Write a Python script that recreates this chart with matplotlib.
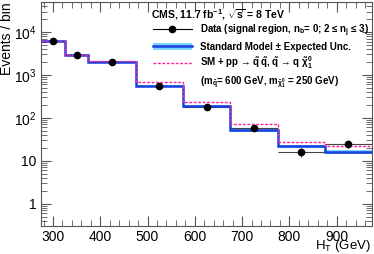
import numpy as np
import matplotlib
matplotlib.use("Agg")
import matplotlib.pyplot as plt
from matplotlib.lines import Line2D
from matplotlib.patches import Patch

plt.rcParams['font.family'] = ['Liberation Sans', 'DejaVu Sans']
plt.rcParams['mathtext.fontset'] = 'custom'
plt.rcParams['mathtext.rm'] = 'Liberation Sans:bold'
plt.rcParams['mathtext.it'] = 'Liberation Sans:bold'
plt.rcParams['mathtext.bf'] = 'Liberation Sans:bold'

# H_T bins (GeV)
bin_edges = [275, 325, 375, 475, 575, 675, 775, 875, 975]
bin_centers = [300, 350, 425, 525, 625, 725, 825, 925]

# observed data and its error
data = [6200, 2950, 1970, 560, 183, 57, 16, 25]
data_err = [80, 55, 45, 24, 14, 8, 4, 5]

# standard model expectation and uncertainty
sm = [6300, 2950, 2000, 560, 188, 51, 21.5, 16]
sm_unc = [300, 120, 80, 30, 10, 3.5, 1.8, 1.4]

# SM + signal
sm_sig = [6300, 2950, 2100, 680, 237, 73, 27, 22.5]

blue = '#1540e0'
band = '#7fd4ff'
pink = '#ff20a0'

fig, ax = plt.subplots(figsize=(3.74, 2.54), dpi=100)
fig.subplots_adjust(left=0.110, right=0.995, bottom=0.110, top=0.992)

sm_arr = np.array(sm)
unc_arr = np.array(sm_unc)
xerr = (np.array(bin_edges[1:]) - np.array(bin_edges[:-1])) / 2

# data error bars under the histograms, markers on top
ax.errorbar(bin_centers, data, yerr=data_err, xerr=xerr, fmt='none',
            ecolor='#444444', elinewidth=0.8, capsize=0, zorder=1)
ax.stairs(sm_arr + unc_arr, bin_edges, baseline=sm_arr - unc_arr,
          fill=True, color=band, lw=0, zorder=2)
ax.stairs(sm, bin_edges, color=blue, lw=1.8, baseline=None, zorder=3)
ax.stairs(sm_sig, bin_edges, color=pink, lw=1.0, ls=(0, (2, 1.2)), baseline=None,
          zorder=4)
ax.plot(bin_centers, data, 'o', color='black', ms=4.5, zorder=5)

ax.set_yscale('log')
ax.set_xlim(275, 975)
ax.set_ylim(0.3, 5e4)

ax.set_xticks([300, 400, 500, 600, 700, 800, 900])
ax.set_xticks(np.arange(280, 976, 20), minor=True)
ax.set_yticks([1, 10, 100, 1000, 10000])
ax.set_yticklabels(['1', '10', r'$\mathregular{10^2}$', r'$\mathregular{10^3}$',
                    r'$\mathregular{10^4}$'])
ax.tick_params(which='both', direction='in', top=True, right=True, labelsize=10,
               color='#555555')
ax.tick_params(axis='x', which='major', pad=2.5)
ax.tick_params(which='major', length=7, width=0.8)
ax.tick_params(which='minor', length=4, width=0.6)
for s in ax.spines.values():
    s.set_color('#555555')
    s.set_linewidth(0.8)

ax.set_xlabel(r'H$_\mathregular{T}$ (GeV)', fontsize=9.5, ha='right', va='bottom')
ax.xaxis.set_label_coords(0.995, -0.125)
ax.set_ylabel('Events / bin', fontsize=10, loc='top', labelpad=0)

handles = [
    Line2D([], [], color='black', marker='o', ms=4.5, lw=0.8),
    (Patch(color=band, lw=0), Line2D([], [], color=blue, lw=1.8)),
    Line2D([], [], color=pink, lw=1.0, ls=(0, (2, 1.2))),
    Line2D([], [], lw=0, alpha=0),
]
labels = [
    r'Data (signal region, n$_\mathregular{b}$= 0; 2 ≤ n$_\mathregular{j}$ ≤ 3)',
    'Standard Model ± Expected Unc.',
    r'SM + pp → $\tilde{q}\,\tilde{q}$, $\tilde{q}$ → q $\tilde{\chi}^0_1$',
    r'(m$_{\tilde{q}}$= 600 GeV, m$_{\tilde{\chi}^0_1}$ = 250 GeV)',
]
leg = ax.legend(handles, labels, loc='upper left', bbox_to_anchor=(0.338, 0.91),
                frameon=False, handlelength=4.0, handletextpad=0.8,
                borderpad=0, borderaxespad=0,
                labelspacing=0.3, prop={'weight': 'bold', 'size': 7})
ax.text(0.332, 0.945, r'CMS, 11.7 fb$^{-1}$, $\sqrt{s}$ = 8 TeV', transform=ax.transAxes,
        fontsize=7.5, fontweight='bold', va='center', ha='left')

plt.savefig('out.png', dpi=100)
